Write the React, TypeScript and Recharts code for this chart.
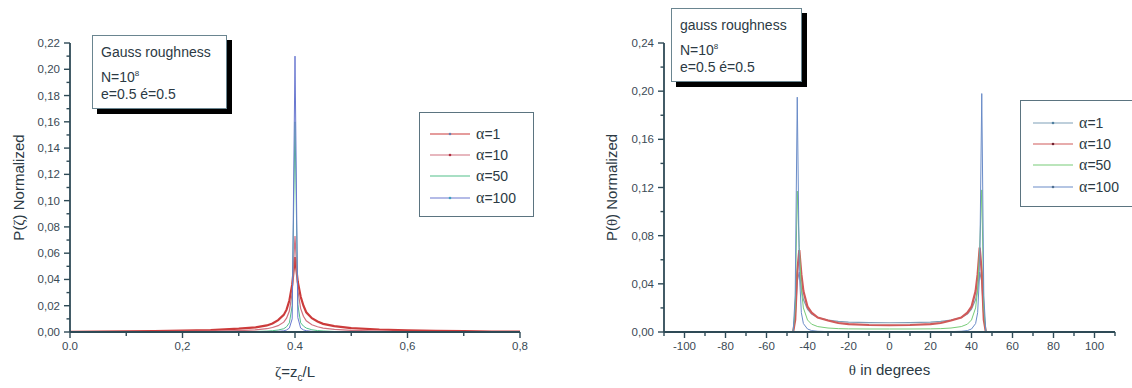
import { Legend, Line, LineChart, XAxis, YAxis } from "recharts"

// ---- left panel: P(zeta) ----
const zeta = [
  0, 0.05, 0.1, 0.15, 0.2, 0.25, 0.3, 0.33, 0.35, 0.36, 0.37, 0.38, 0.385, 0.39, 0.395, 0.4, 0.405, 0.41,
  0.415, 0.42, 0.43, 0.44, 0.45, 0.47, 0.5, 0.55, 0.6, 0.65, 0.7, 0.75, 0.8,
]
const pZeta1 = [
  0.0002, 0.0003, 0.0005, 0.0007, 0.001, 0.0015, 0.0025, 0.0035, 0.005, 0.0065, 0.009, 0.013, 0.017, 0.024,
  0.036, 0.057, 0.038, 0.027, 0.02, 0.015, 0.0105, 0.008, 0.0062, 0.0045, 0.003, 0.0019, 0.0013, 0.0009,
  0.0006, 0.0004, 0.0003,
]
const pZeta10 = [
  0.0001, 0.0001, 0.0002, 0.0003, 0.0005, 0.0007, 0.0011, 0.0016, 0.0025, 0.0034, 0.0048, 0.0075, 0.0105,
  0.016, 0.03, 0.073, 0.032, 0.018, 0.012, 0.0085, 0.0055, 0.004, 0.003, 0.002, 0.0013, 0.0007, 0.0004,
  0.0003, 0.0002, 0.0001, 0.0001,
]
const pZeta50 = [
  0, 0, 0, 0, 0.0001, 0.0001, 0.0002, 0.0004, 0.0007, 0.001, 0.0015, 0.0025, 0.004, 0.007, 0.02, 0.16, 0.021,
  0.007, 0.0045, 0.003, 0.0017, 0.0011, 0.0008, 0.0004, 0.0002, 0.0001, 0, 0, 0, 0, 0,
]
const pZeta100 = [
  0, 0, 0, 0, 0, 0, 0.0001, 0.0001, 0.0002, 0.0003, 0.0005, 0.0009, 0.0015, 0.003, 0.01, 0.21, 0.011, 0.003,
  0.0016, 0.001, 0.0005, 0.0003, 0.0002, 0.0001, 0, 0, 0, 0, 0, 0, 0,
]
const zetaTicks = [0, 0.1, 0.2, 0.3, 0.4, 0.5, 0.6, 0.7, 0.8]
const zetaTickLabels = ["0.0", "", "0,2", "", "0.4", "", "0,6", "", "0,8"]
const pZetaTicks = [
  0, 0.01, 0.02, 0.03, 0.04, 0.05, 0.06, 0.07, 0.08, 0.09, 0.1, 0.11, 0.12, 0.13, 0.14, 0.15, 0.16, 0.17, 0.18,
  0.19, 0.2, 0.21, 0.22,
]
const pZetaTickLabels = [
  "0,00", "", "0,02", "", "0,04", "", "0,06", "", "0,08", "", "0,10", "", "0,12", "", "0,14", "", "0,16", "",
  "0,18", "", "0,20", "", "0,22",
]

// ---- right panel: P(theta) ----
const theta = [
  -110, -100, -90, -80, -70, -60, -50, -47, -46, -45, -44, -43, -42, -40, -38, -35, -30, -25, -20, -10, 0, 10, 20,
  25, 30, 35, 38, 40, 42, 43, 44, 45, 46, 47, 50, 60, 70, 80, 90, 100, 110,
]
const pTheta1 = [
  0, 0, 0, 0, 0, 0, 0, 0, 0.012, 0.042, 0.05, 0.036, 0.027, 0.019, 0.015, 0.012, 0.0098, 0.0088, 0.0082, 0.0078,
  0.0077, 0.0078, 0.0082, 0.0088, 0.0098, 0.012, 0.015, 0.019, 0.027, 0.036, 0.05, 0.042, 0.012, 0, 0, 0, 0, 0,
  0, 0, 0,
]
const pTheta10 = [
  0, 0, 0, 0, 0, 0, 0, 0, 0.01, 0.05, 0.068, 0.048, 0.034, 0.021, 0.016, 0.012, 0.0095, 0.0075, 0.0066, 0.0058,
  0.0056, 0.0058, 0.0066, 0.0075, 0.0095, 0.012, 0.016, 0.021, 0.034, 0.048, 0.07, 0.05, 0.01, 0, 0, 0, 0, 0, 0,
  0, 0,
]
const pTheta50 = [
  0, 0, 0, 0, 0, 0, 0, 0, 0.02, 0.117, 0.07, 0.035, 0.02, 0.01, 0.0065, 0.0045, 0.0033, 0.0028, 0.0026, 0.0025,
  0.0025, 0.0025, 0.0026, 0.0028, 0.0033, 0.0045, 0.0065, 0.01, 0.02, 0.035, 0.07, 0.118, 0.02, 0, 0, 0, 0, 0, 0,
  0, 0,
]
const pTheta100 = [
  0, 0, 0, 0, 0, 0, 0, 0, 0.03, 0.195, 0.05, 0.016, 0.007, 0.0025, 0.0012, 0.0006, 0.0003, 0.0002, 0.0002,
  0.0001, 0.0001, 0.0001, 0.0002, 0.0002, 0.0003, 0.0006, 0.0012, 0.0025, 0.007, 0.016, 0.05, 0.198, 0.03, 0, 0,
  0, 0, 0, 0, 0, 0,
]
const thetaTicks = [-110, -100, -90, -80, -70, -60, -50, -40, -30, -20, -10, 0, 10, 20, 30, 40, 50, 60, 70, 80, 90, 100, 110]
const thetaTickLabels = [
  "", "-100", "", "-80", "", "-60", "", "-40", "", "-20", "", "0", "", "20", "", "40", "", "60", "", "80", "",
  "100", "",
]
const pThetaTicks = [0, 0.02, 0.04, 0.06, 0.08, 0.1, 0.12, 0.14, 0.16, 0.18, 0.2, 0.22, 0.24]
const pThetaTickLabels = ["0,00", "", "0,04", "", "0,08", "", "0,12", "", "0,16", "", "0,20", "", "0,24"]

const AXIS_COLOR = "#2e4a56"
const TEXT_COLOR = "#3a4a55"
const SANS = '"Liberation Sans", Arial, sans-serif'
const SERIF = '"Liberation Serif", "Times New Roman", serif'

const zetaData = zeta.map((x, i) => ({ x, a1: pZeta1[i], a10: pZeta10[i], a50: pZeta50[i], a100: pZeta100[i] }))
const thetaData = theta.map((x, i) => ({
  x,
  a1: pTheta1[i],
  a10: pTheta10[i],
  a50: pTheta50[i],
  a100: pTheta100[i],
}))

const zetaLines = [
  { dataKey: "a1", name: "α=1", color: "#cc3b3b", width: 2.2, dotColor: "#6a7fb0" },
  { dataKey: "a10", name: "α=10", color: "#d0707e", width: 1.2, dotColor: "#b03040" },
  { dataKey: "a50", name: "α=50", color: "#52c08a", width: 1, dotColor: "" },
  { dataKey: "a100", name: "α=100", color: "#6a78d0", width: 1, dotColor: "#40a0c0" },
]
const thetaLines = [
  { dataKey: "a1", name: "α=1", color: "#7f9fb8", width: 1.2, dotColor: "#5080a0" },
  { dataKey: "a10", name: "α=10", color: "#d05a5a", width: 2.2, dotColor: "#702030" },
  { dataKey: "a50", name: "α=50", color: "#78cc78", width: 1, dotColor: "" },
  { dataKey: "a100", name: "α=100", color: "#6a8cc8", width: 1, dotColor: "#507090" },
]

function AxisTick(props: any) {
  const { x, y, index, labels, side } = props
  const label = labels[index]
  const major = label !== ""
  if (side === "left") {
    const len = major ? 6 : 3.5
    return (
      <g>
        <line x1={x} x2={x - len} y1={y} y2={y} stroke={AXIS_COLOR} strokeWidth={1.4} />
        {major && (
          <text x={x - 10} y={y} dy="0.35em" textAnchor="end" fontSize={11.5} fontFamily={SANS} fill={TEXT_COLOR}>
            {label}
          </text>
        )}
      </g>
    )
  }
  const len = major ? 6 : 4
  return (
    <g>
      <line x1={x} x2={x} y1={y} y2={y + len} stroke={AXIS_COLOR} strokeWidth={1.4} />
      {major && (
        <text x={x} y={y + 18} textAnchor="middle" fontSize={11.5} fontFamily={SANS} fill={TEXT_COLOR}>
          {label}
        </text>
      )}
    </g>
  )
}

function AlphaLegend(props: any) {
  const { payload, lines, padTop, padLeft, width, height, rowHeight } = props
  // keep the series order of the original plot, not recharts' sorted order
  const items = lines
    .map((line: any) => ({ line, item: (payload || []).find((p: any) => p.dataKey === line.dataKey) }))
    .filter((e: any) => e.item)
  return (
    <div
      style={{
        boxSizing: "border-box",
        width,
        height,
        border: `1.5px solid #5b7480`,
        background: "#fff",
        paddingTop: padTop,
        paddingLeft: padLeft,
      }}
    >
      {items.map(({ line, item }: any, i: number) => {
        const text = String(item.value)
        return (
          <div key={i} style={{ display: "flex", alignItems: "center", height: rowHeight }}>
            <svg width={40} height={8} style={{ marginRight: 6 }}>
              <line x1={0} x2={40} y1={4} y2={4} stroke={line.color} strokeWidth={1.2} />
              {line.dotColor && <circle cx={20} cy={4} r={1.3} fill={line.dotColor} />}
            </svg>
            <span style={{ fontFamily: SANS, fontSize: 14, color: "#2c3a44" }}>
              <span style={{ fontFamily: SERIF, fontSize: 16 }}>{text.charAt(0)}</span>
              {text.slice(1)}
            </span>
          </div>
        )
      })}
    </div>
  )
}

function InfoBox(props: { left: number; top: number; width: number; height: number; title: string }) {
  const { left, top, width, height, title } = props
  const lineStyle = { height: 21, lineHeight: "21px" }
  return (
    <div
      style={{
        position: "absolute",
        left,
        top,
        width,
        height,
        boxSizing: "border-box",
        border: "1.5px solid #6a8590",
        background: "#fff",
        boxShadow: "5px 5px 0 #000",
        padding: "6px 0 0 8px",
        fontFamily: SANS,
        fontSize: 14,
        color: "#2c3a44",
      }}
    >
      <div style={lineStyle}>{title}</div>
      <div style={lineStyle}>
        N=10<sup style={{ fontSize: 8, verticalAlign: "6px" }}>8</sup>
      </div>
      <div style={lineStyle}>e=0.5 é=0.5</div>
    </div>
  )
}

export default function App() {
  return (
    <div style={{ position: "absolute", left: 0, top: 0, width: 1132, height: 388, background: "#fff", overflow: "hidden" }}>
      <div style={{ position: "absolute", left: 0, top: 0 }}>
        <LineChart width={560} height={388} data={zetaData} margin={{ top: 43, right: 40, bottom: 6, left: 0 }}>
          <XAxis
            dataKey="x"
            type="number"
            domain={[0, 0.8]}
            ticks={zetaTicks}
            interval={0}
            height={50}
            tickSize={0}
            tickMargin={0}
            tickLine={false}
            axisLine={{ stroke: AXIS_COLOR, strokeWidth: 1.8 }}
            tick={<AxisTick labels={zetaTickLabels} side="bottom" />}
            label={(p: any) => {
              const vb = p.viewBox
              return (
                <text x={vb.x + vb.width / 2} y={vb.y + 45} textAnchor="middle" fontSize={15} fontFamily={SANS} fill="#2c3a44">
                  <tspan fontFamily={SERIF}>ζ</tspan>=z<tspan fontSize={10} dy={4}>c</tspan>
                  <tspan dy={-4}>/L</tspan>
                </text>
              )
            }}
          />
          <YAxis
            type="number"
            domain={[0, 0.22]}
            ticks={pZetaTicks}
            interval={0}
            width={70}
            tickSize={0}
            tickMargin={0}
            tickLine={false}
            axisLine={{ stroke: AXIS_COLOR, strokeWidth: 1.8 }}
            tick={<AxisTick labels={pZetaTickLabels} side="left" />}
            label={(p: any) => {
              const vb = p.viewBox
              const cx = vb.x + 19
              const cy = vb.y + vb.height / 2
              return (
                <text x={cx} y={cy} dy="0.35em" transform={`rotate(-90 ${cx} ${cy})`} textAnchor="middle" fontSize={15} fontFamily={SANS} fill="#2c3a44">
                  P(<tspan fontFamily={SERIF}>ζ</tspan>) Normalized
                </text>
              )
            }}
          />
          <Legend
            layout="vertical"
            align="center"
            verticalAlign="middle"
            wrapperStyle={{ left: 419, top: 112, width: 115 }}
            content={<AlphaLegend lines={zetaLines} padTop={10} padLeft={10} width={115} height={105} rowHeight={21.3} />}
          />
          {zetaLines.map((line) => (
            <Line
              key={line.dataKey}
              type="linear"
              dataKey={line.dataKey}
              name={line.name}
              stroke={line.color}
              strokeWidth={line.width}
              dot={false}
              activeDot={false}
              isAnimationActive={false}
            />
          ))}
        </LineChart>
        <InfoBox left={92} top={35} width={135} height={74} title="Gauss roughness" />
      </div>

      <div style={{ position: "absolute", left: 560, top: 0 }}>
        <LineChart width={572} height={388} data={thetaData} margin={{ top: 43, right: 17, bottom: 6, left: 0 }}>
          <XAxis
            dataKey="x"
            type="number"
            domain={[-110, 110]}
            ticks={thetaTicks}
            interval={0}
            height={50}
            tickSize={0}
            tickMargin={0}
            tickLine={false}
            axisLine={{ stroke: AXIS_COLOR, strokeWidth: 1.8 }}
            tick={<AxisTick labels={thetaTickLabels} side="bottom" />}
            label={(p: any) => {
              const vb = p.viewBox
              return (
                <text x={vb.x + vb.width / 2} y={vb.y + 43} textAnchor="middle" fontSize={15} fontFamily={SANS} fill="#2c3a44">
                  <tspan fontFamily={SERIF}>θ</tspan> in degrees
                </text>
              )
            }}
          />
          <YAxis
            type="number"
            domain={[0, 0.24]}
            ticks={pThetaTicks}
            interval={0}
            width={104}
            tickSize={0}
            tickMargin={0}
            tickLine={false}
            axisLine={{ stroke: AXIS_COLOR, strokeWidth: 1.8 }}
            tick={<AxisTick labels={pThetaTickLabels} side="left" />}
            label={(p: any) => {
              const vb = p.viewBox
              const cx = vb.x + 52
              const cy = vb.y + vb.height / 2
              return (
                <text x={cx} y={cy} dy="0.35em" transform={`rotate(-90 ${cx} ${cy})`} textAnchor="middle" fontSize={15} fontFamily={SANS} fill="#2c3a44">
                  P(<tspan fontFamily={SERIF}>θ</tspan>) Normalized
                </text>
              )
            }}
          />
          <Legend
            layout="vertical"
            align="center"
            verticalAlign="middle"
            wrapperStyle={{ left: 460, top: 100, width: 120 }}
            content={<AlphaLegend lines={thetaLines} padTop={11} padLeft={12} width={120} height={107} rowHeight={21.3} />}
          />
          {thetaLines.map((line) => (
            <Line
              key={line.dataKey}
              type="linear"
              dataKey={line.dataKey}
              name={line.name}
              stroke={line.color}
              strokeWidth={line.width}
              dot={false}
              activeDot={false}
              isAnimationActive={false}
            />
          ))}
        </LineChart>
        <InfoBox left={111} top={8} width={131} height={74} title="gauss roughness" />
      </div>
    </div>
  )
}
